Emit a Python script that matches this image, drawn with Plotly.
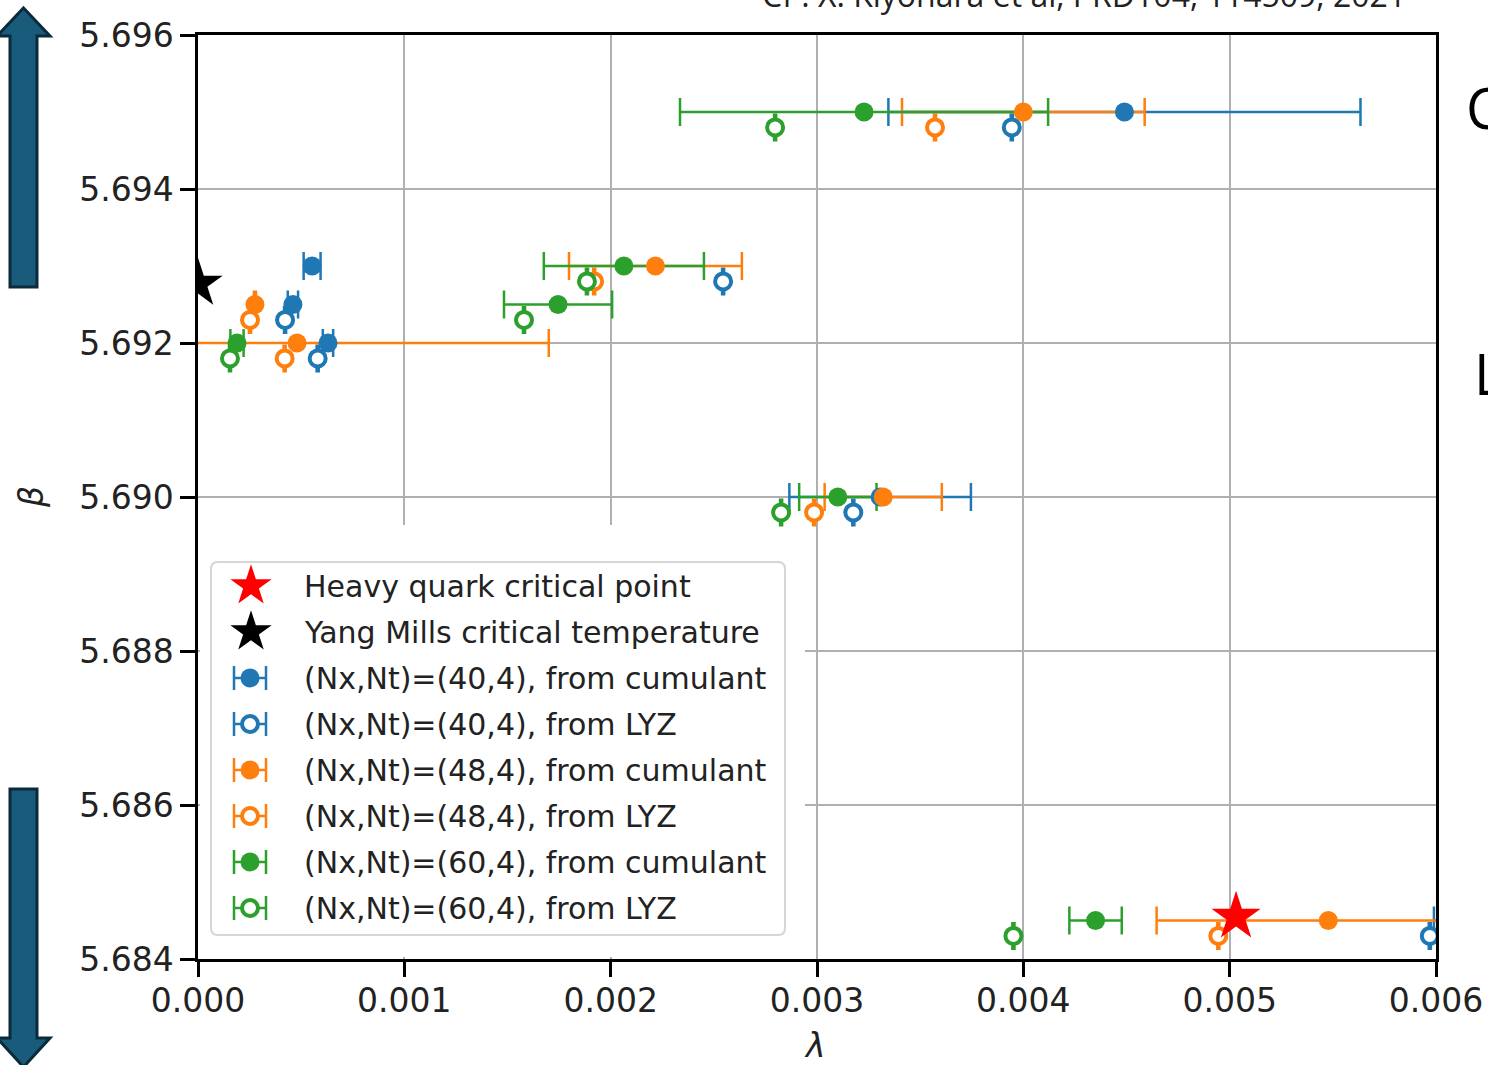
import plotly.graph_objects as go

# ---- data: beta vs lambda for the critical point search ----
beta_cum = [5.695, 5.693, 5.6925, 5.692, 5.690, 5.6845]
beta_lyz = [5.6948, 5.6928, 5.6923, 5.6918, 5.6898, 5.6843]

# (Nx,Nt)=(40,4)
lam_cum_40 = [0.00449, 0.000553, 0.00046, 0.00063, 0.003306, 0.0068]
err_cum_40 = [0.001144, 0.000041, 0.000025, 0.000025, 0.00044, 0.00081]
lam_lyz_40 = [0.003944, 0.002545, 0.000422, 0.00058, 0.003176, 0.00597]
err_lyz_40 = [0.000005, 0.000005, 0.000005, 0.000005, 0.000005, 0.000005]

# (Nx,Nt)=(48,4)
lam_cum_48 = [0.0040, 0.002217, 0.000276, 0.00048, 0.003321, 0.005478]
err_cum_48 = [0.000588, 0.000419, 0.000005, 0.00122, 0.000284, 0.000832]
lam_lyz_48 = [0.003572, 0.00192, 0.000252, 0.00042, 0.002986, 0.004945]
err_lyz_48 = [0.000005, 0.000005, 0.000005, 0.000005, 0.000005, 0.000005]

# (Nx,Nt)=(60,4)
lam_cum_60 = [0.003228, 0.002064, 0.001745, 0.000189, 0.003101, 0.00435]
err_cum_60 = [0.000892, 0.000388, 0.000262, 0.000032, 0.0001875, 0.000127]
lam_lyz_60 = [0.002797, 0.001885, 0.00158, 0.000155, 0.002826, 0.003952]
err_lyz_60 = [0.000005, 0.000005, 0.000005, 0.000005, 0.000005, 0.000005]

# special points
hq_lam, hq_beta = [0.005031], [5.68455]
ym_lam, ym_beta = [0.0], [5.69277]

x_ticks = [0.000, 0.001, 0.002, 0.003, 0.004, 0.005, 0.006]
y_ticks = [5.684, 5.686, 5.688, 5.690, 5.692, 5.694, 5.696]
X_RANGE = [0.0, 0.006]
Y_RANGE = [5.684, 5.696]

BLUE, ORANGE, GREEN = "#1f77b4", "#ff7f0e", "#2ca02c"
FONT = "DejaVu Sans"
TXT = "#222"

W, H = 1488, 1065
L, R, T, B = 198, 1436, 35, 959


def px(x):
    return (x - L) / (R - L)


def py(y):
    return (B - y) / (B - T)


def dx(x):
    return X_RANGE[0] + px(x) * (X_RANGE[1] - X_RANGE[0])


def dy(y):
    return Y_RANGE[0] + py(y) * (Y_RANGE[1] - Y_RANGE[0])


series = [
    ("(Nx,Nt)=(40,4), from cumulant", lam_cum_40, err_cum_40, beta_cum, BLUE, True),
    ("(Nx,Nt)=(40,4), from LYZ", lam_lyz_40, err_lyz_40, beta_lyz, BLUE, False),
    ("(Nx,Nt)=(48,4), from cumulant", lam_cum_48, err_cum_48, beta_cum, ORANGE, True),
    ("(Nx,Nt)=(48,4), from LYZ", lam_lyz_48, err_lyz_48, beta_lyz, ORANGE, False),
    ("(Nx,Nt)=(60,4), from cumulant", lam_cum_60, err_cum_60, beta_cum, GREEN, True),
    ("(Nx,Nt)=(60,4), from LYZ", lam_lyz_60, err_lyz_60, beta_lyz, GREEN, False),
]


def marker_style(col, filled):
    if filled:
        return dict(symbol="circle", size=19, color=col, line=dict(width=0))
    return dict(symbol="circle", size=16, color="white", line=dict(width=4, color=col))


fig = go.Figure()

# error bars first so that every marker sits on top of all bar lines
for name, lam, err, beta, col, filled in series:
    fig.add_trace(go.Scatter(
        x=lam, y=beta, mode="markers",
        marker=dict(size=1, color="rgba(0,0,0,0)"),
        error_x=dict(type="data", array=err, color=col, thickness=2.5, width=14),
        showlegend=False, hoverinfo="skip",
    ))

for name, lam, err, beta, col, filled in series:
    fig.add_trace(go.Scatter(
        x=lam, y=beta, mode="markers", name=name,
        marker=marker_style(col, filled), showlegend=False,
    ))

fig.add_trace(go.Scatter(
    x=hq_lam, y=hq_beta, mode="markers", name="Heavy quark critical point",
    marker=dict(symbol="star", size=37, color="red", line=dict(width=0)),
    showlegend=False,
))
fig.add_trace(go.Scatter(
    x=ym_lam, y=ym_beta, mode="markers", name="Yang Mills critical temperature",
    marker=dict(symbol="star", size=37, color="black", line=dict(width=0)),
    showlegend=False,
))

# ---- legend, laid out on a pixel-unit overlay axis pair ----
LEG_X0, LEG_X1, LEG_Y0, LEG_Y1 = 211, 785, 562, 935
ROW0, ROW = 586, 46
SYM_X, TXT_X = 250, 302

legend_entries = [("Heavy quark critical point", "star", "red"),
                  ("Yang Mills critical temperature", "star", "black")]
legend_entries += [(s[0], s[5], s[4]) for s in series]

annotations = []
for k, (label, kind, col) in enumerate(legend_entries):
    yk = ROW0 + k * ROW
    if kind == "star":
        fig.add_trace(go.Scatter(
            x=[SYM_X + 1], y=[yk], mode="markers", xaxis="x2", yaxis="y2",
            marker=dict(symbol="star", size=31, color=col, line=dict(width=0)),
            showlegend=False, hoverinfo="skip",
        ))
    else:
        fig.add_trace(go.Scatter(
            x=[SYM_X], y=[yk], mode="markers", xaxis="x2", yaxis="y2",
            marker=marker_style(col, kind),
            error_x=dict(type="data", array=[16], color=col, thickness=2.5, width=12),
            showlegend=False, hoverinfo="skip",
        ))
    annotations.append(dict(
        text=label, xref="x2", yref="y2", x=TXT_X, y=yk,
        xanchor="left", yanchor="middle", showarrow=False,
        font=dict(family=FONT, size=30, color=TXT),
    ))

axis_common = dict(
    showline=True, linecolor="black", linewidth=2.5, mirror=True,
    ticks="outside", ticklen=15, tickwidth=2.5, tickcolor="black",
    showgrid=True, gridcolor="#b0b0b0", gridwidth=2, zeroline=False,
    tickfont=dict(family=FONT, size=33, color=TXT),
    tickformat=".3f", automargin=False,
)
fig.update_xaxes(range=X_RANGE, tickvals=x_ticks, ticklabelstandoff=-4, **axis_common)
fig.update_yaxes(range=Y_RANGE, tickvals=y_ticks, **axis_common)


def arrow_path(cx, tip, base, tail, shaft=13.5, head=26.5):
    pts = [(cx, tip), (cx + head, base), (cx + shaft, base), (cx + shaft, tail),
           (cx - shaft, tail), (cx - shaft, base), (cx - head, base)]
    return "M " + " L ".join(f"{px(a):.5f},{py(b):.5f}" for a, b in pts) + " Z"


def rounded_rect(x0, y0, x1, y1, r):
    pts = [("M", x0 + r, y0), ("L", x1 - r, y0), ("Q", x1, y0, x1, y0 + r),
           ("L", x1, y1 - r), ("Q", x1, y1, x1 - r, y1), ("L", x0 + r, y1),
           ("Q", x0, y1, x0, y1 - r), ("L", x0, y0 + r), ("Q", x0, y0, x0 + r, y0)]
    out = []
    for cmd, *v in pts:
        coords = [f"{dx(v[i]):.7f},{dy(v[i + 1]):.7f}" for i in range(0, len(v), 2)]
        out.append(cmd + " " + " ".join(coords))
    return " ".join(out) + " Z"


shapes = [
    # blank panel holding the legend (above the grid, below the marks)
    dict(type="rect", xref="x", yref="y", layer="between",
         x0=dx(200), x1=dx(805), y0=dy(957), y1=dy(525),
         fillcolor="white", line=dict(width=0)),
    dict(type="path", xref="x", yref="y", layer="between",
         path=rounded_rect(LEG_X0, LEG_Y0, LEG_X1, LEG_Y1, 7),
         fillcolor="white", line=dict(color="#d6d6d6", width=2)),
    # side arrows
    dict(type="path", xref="paper", yref="paper", layer="above",
         path=arrow_path(23.5, 8, 36, 287),
         fillcolor="#195b7b", line=dict(color="#0b2a3b", width=3)),
    dict(type="path", xref="paper", yref="paper", layer="above",
         path=arrow_path(23.5, 1067, 1038, 789),
         fillcolor="#195b7b", line=dict(color="#0b2a3b", width=3)),
]

annotations += [
    dict(text="<i>λ</i>", xref="paper", yref="paper", x=px(815), y=py(1045),
         xanchor="center", yanchor="middle", showarrow=False,
         font=dict(family=FONT, size=33, color=TXT)),
    dict(text="<i>β</i>", xref="paper", yref="paper", x=px(31), y=py(497),
         xanchor="center", yanchor="middle", showarrow=False, textangle=-90,
         font=dict(family=FONT, size=33, color=TXT)),
    dict(text="Cf : X. Kiyohara et al, PRD104, 114509, 2021", xref="paper", yref="paper",
         x=px(760), y=py(18), xanchor="left", yanchor="bottom", showarrow=False,
         font=dict(family="Open Sans", size=32, color=TXT)),
    dict(text="C", xref="paper", yref="paper", x=px(1464), y=py(107),
         xanchor="left", yanchor="middle", showarrow=False,
         font=dict(family="Open Sans", size=56, color="black")),
    dict(text="L", xref="paper", yref="paper", x=px(1472), y=py(373),
         xanchor="left", yanchor="middle", showarrow=False,
         font=dict(family="Open Sans", size=56, color="black")),
]

fig.update_layout(
    width=W, height=H,
    margin=dict(l=L, r=W - R, t=T, b=H - B, autoexpand=False),
    paper_bgcolor="white", plot_bgcolor="white",
    shapes=shapes, annotations=annotations, showlegend=False,
    xaxis2=dict(overlaying="x", range=[L, R], visible=False, automargin=False),
    yaxis2=dict(overlaying="y", range=[B, T], visible=False, automargin=False),
)

fig.write_html("out.html")
